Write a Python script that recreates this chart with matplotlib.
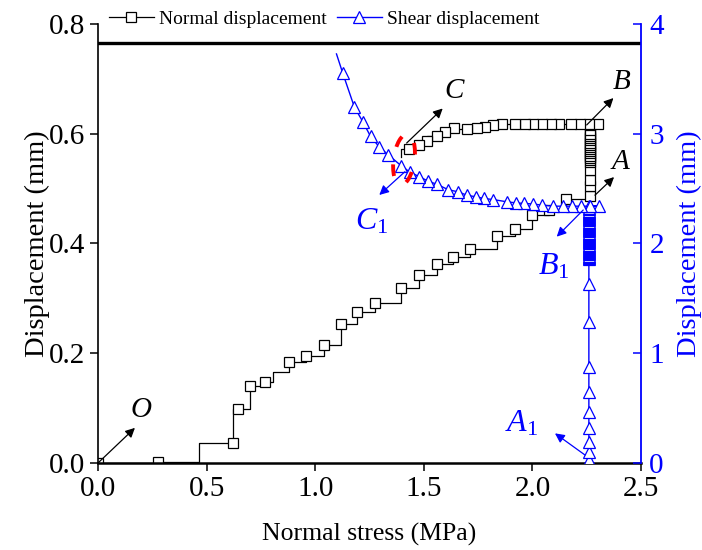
import matplotlib
matplotlib.use('AGG')
import matplotlib.pyplot as plt
from matplotlib.patches import Ellipse
from matplotlib.transforms import Affine2D, ScaledTranslation

plt.rcParams['font.family'] = ['Liberation Serif', 'DejaVu Serif']
plt.rcParams['mathtext.fontset'] = 'custom'
plt.rcParams['mathtext.rm'] = 'Liberation Serif'
plt.rcParams['mathtext.it'] = 'Liberation Serif:italic'

#%% data
# normal displacement (left axis), stress in MPa, displacement in mm
normal_stress = [0.0, 0.276, 0.466, 0.62, 0.62, 0.643, 0.70, 0.767, 0.804, 0.88,
                 0.958, 1.039, 1.117, 1.191, 1.275, 1.395, 1.478, 1.559, 1.634, 1.713,
                 1.835, 1.92, 2.0, 2.077, 2.157, 2.265,
                 2.265, 2.265, 2.265, 2.265, 2.265, 2.265, 2.265, 2.265, 2.265, 2.265,
                 2.265, 2.265, 2.265, 2.265, 2.265, 2.265, 2.265, 2.265, 2.265,
                 2.304, 2.262, 2.22, 2.18, 2.124, 2.084, 2.043, 2.004, 1.966, 1.918,
                 1.86, 1.82, 1.782, 1.743, 1.70, 1.639, 1.599, 1.559, 1.517, 1.48,
                 1.433, 1.395]
normal_disp = [0.0, 0.002, 0.036, 0.037, 0.099, 0.099, 0.14, 0.147, 0.165, 0.184,
               0.195, 0.215, 0.253, 0.276, 0.291, 0.318, 0.342, 0.362, 0.3745, 0.39,
               0.413, 0.426, 0.451, 0.461, 0.481, 0.486,
               0.505, 0.515, 0.533, 0.548, 0.552, 0.556, 0.56, 0.564, 0.568, 0.572,
               0.576, 0.58, 0.584, 0.588, 0.592, 0.596, 0.60, 0.606, 0.616,
               0.617, 0.617, 0.617, 0.617, 0.618, 0.618, 0.618, 0.618, 0.618, 0.617,
               0.617, 0.616, 0.613, 0.61, 0.608, 0.61, 0.604, 0.596, 0.586, 0.579,
               0.573, 0.558]
normal_unmarked = [2, 4, 8, 66]

# shear displacement (right axis), mm
shear_stress = [2.26] * 58 + \
               [2.308, 2.265, 2.222, 2.181, 2.139, 2.096, 2.043, 2.001, 1.963, 1.924,
                1.882, 1.820, 1.777, 1.740, 1.698, 1.659, 1.613, 1.559, 1.518, 1.478,
                1.436, 1.395, 1.337, 1.294, 1.255, 1.221, 1.18, 1.126, 1.098]
shear_disp = [0.0, 0.027, 0.103, 0.194, 0.315, 0.461, 0.643, 0.876, 1.285, 1.627,
              1.86, 1.87, 1.88, 1.89, 1.90, 1.91, 1.92, 1.93, 1.94, 1.95,
              1.96, 1.97, 1.98, 1.99, 2.00, 2.01, 2.02, 2.03, 2.04, 2.05,
              2.06, 2.07, 2.08, 2.09, 2.10, 2.11, 2.12, 2.13, 2.14, 2.15,
              2.16, 2.17, 2.18, 2.19, 2.20, 2.21, 2.22, 2.23, 2.24, 2.25,
              2.26, 2.27, 2.28, 2.29, 2.30, 2.31, 2.32, 2.34,
              2.34, 2.34, 2.34, 2.34, 2.34, 2.34, 2.35, 2.36, 2.365, 2.37,
              2.38, 2.40, 2.41, 2.425, 2.44, 2.47, 2.49, 2.54, 2.57, 2.61,
              2.65, 2.71, 2.806, 2.882, 2.975, 3.103, 3.245, 3.557, 3.727]
shear_unmarked = [86]

blue = '#0000FF'

#%% plot
fig = plt.figure(figsize=(7.02, 5.5), dpi=100)
ax = fig.add_axes([0.1396, 0.1582, 0.7735, 0.7982])
ax2 = ax.twinx()

marked_n = [i for i in range(len(normal_stress)) if i not in normal_unmarked]
marked_s = [i for i in range(len(shear_stress)) if i not in shear_unmarked]

ln1, = ax.plot(normal_stress, normal_disp, color='k', linewidth=0.9, drawstyle='steps-post',
               marker='s', markersize=7.3, markerfacecolor='white', markeredgecolor='k',
               markeredgewidth=0.9, markevery=marked_n, label='Normal displacement')
ln2, = ax2.plot(shear_stress, shear_disp, color=blue, linewidth=1.0,
                marker='^', markersize=8, markerfacecolor='white', markeredgecolor=blue,
                markeredgewidth=0.9, markevery=marked_s, label='Shear displacement')

ax.axhline(0.766, color='k', linewidth=2.4)

ax.set_xlim(0, 2.5)
ax.set_ylim(0, 0.8)
ax2.set_ylim(0, 4)
ax.set_xticks([0.0, 0.5, 1.0, 1.5, 2.0, 2.5])
ax.set_yticks([0.0, 0.2, 0.4, 0.6, 0.8])
ax2.set_yticks([0, 1, 2, 3, 4])
ax.set_xticklabels(['0.0', '0.5', '1.0', '1.5', '2.0', '2.5'])
ax.set_yticklabels(['0.0', '0.2', '0.4', '0.6', '0.8'])

ax.spines['top'].set_visible(False)
ax.spines['right'].set_visible(False)
ax.spines['left'].set_linewidth(1.2)
ax.spines['bottom'].set_linewidth(1.8)
for sp in ['top', 'left', 'bottom']:
    ax2.spines[sp].set_visible(False)
ax2.spines['right'].set_color(blue)
ax2.spines['right'].set_linewidth(1.3)

ax.tick_params(axis='both', direction='out', length=6, width=1.1, labelsize=21)
ax2.tick_params(axis='y', direction='in', length=6, width=1.1, labelsize=21,
                colors=blue, pad=6)

ax.set_xlabel('Normal stress (MPa)', fontsize=18.5, labelpad=15)
ax.set_ylabel('Displacement (mm)', fontsize=20.5, labelpad=-1)
ax2.set_ylabel('Displacement (mm)', fontsize=20.5, color=blue, labelpad=9)

# annotations
arr_k = dict(arrowstyle='-|>', color='k', lw=0.9, mutation_scale=14, shrinkA=0, shrinkB=0)
arr_b = dict(arrowstyle='-|>', color=blue, lw=0.9, mutation_scale=14, shrinkA=0, shrinkB=0)
tk = ax.transData
for tail, head, pos, txt in [((0.0, 0.0), (0.170, 0.064), (0.20, 0.096), 'O'),
                             ((2.288, 0.488), (2.376, 0.521), (2.408, 0.549), 'A'),
                             ((2.25, 0.616), (2.373, 0.665), (2.411, 0.695), 'B'),
                             ((1.421, 0.583), (1.587, 0.646), (1.644, 0.677), 'C')]:
    ax2.annotate('', xy=head, xycoords=tk, xytext=tail, textcoords=tk, arrowprops=arr_k)
    ax2.text(pos[0], pos[1], '$' + txt + '$', transform=tk, fontsize=21,
             ha='center', va='center', color='k')
for tail, head, pos, txt in [((1.413, 2.654), (1.295, 2.442), (1.26, 2.20), r'C_{\mathit{1}}'),
                             ((2.234, 2.305), (2.112, 2.062), (2.10, 1.79), r'B_{\mathit{1}}'),
                             ((2.242, 0.073), (2.104, 0.27), (1.95, 0.36), r'A_{\mathit{1}}')]:
    ax2.annotate('', xy=head, xytext=tail, arrowprops=arr_b)
    ax2.text(pos[0], pos[1], '$' + txt + '$', fontsize=23, ha='center', va='center',
             color=blue)

# red dashed ellipse around C, sized in points so it can be tilted on screen
ell_trans = Affine2D().scale(1 / 72.) + fig.dpi_scale_trans + \
    ScaledTranslation(1.409, 0.553, ax.transData)
ell = Ellipse((0, 0), width=15, height=37, angle=-8, fill=False,
              edgecolor='red', linewidth=2.8, linestyle=(5.9, (3.0, 4.6)),
              transform=ell_trans, zorder=5)
ax2.add_patch(ell)

fig.legend(handles=[ln1, ln2], loc='center', bbox_to_anchor=(0.462, 0.965), ncol=2,
           frameon=False, fontsize=14, handlelength=2.3, handletextpad=0.3,
           columnspacing=0.5, borderpad=0)

fig.savefig('out.png', dpi=100)
